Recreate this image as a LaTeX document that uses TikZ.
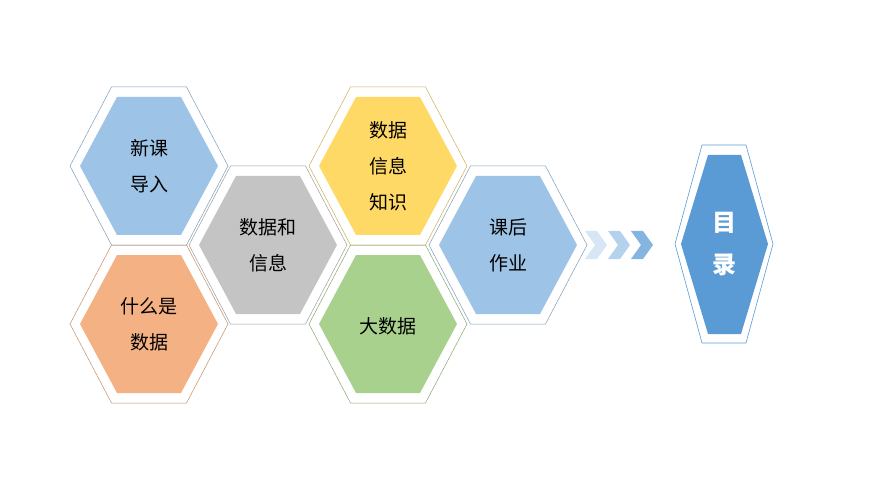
\documentclass[tikz,border=0pt]{standalone}
\usepackage{fontspec}
\setmainfont{Noto Sans CJK SC}
\definecolor{cblue}{HTML}{9DC3E6}
\definecolor{cgray}{HTML}{C4C4C4}
\definecolor{cyel}{HTML}{FFD966}
\definecolor{corg}{HTML}{F4B183}
\definecolor{cgrn}{HTML}{A9D18E}
\definecolor{cdeep}{HTML}{5B9BD5}
\newcommand\myhex[3]{% x y color
  \draw[#3!80!black, line width=0.5pt] (#1-79,#2) -- (#1-37.5,#2-79) -- (#1+37.5,#2-79) -- (#1+79,#2) -- (#1+37.5,#2+79) -- (#1-37.5,#2+79) -- cycle;
  \fill[#3] (#1-69,#2) -- (#1-32,#2-69) -- (#1+32,#2-69) -- (#1+69,#2) -- (#1+32,#2+69) -- (#1-32,#2+69) -- cycle;
}
\tikzset{lbl/.style={align=center, font=\fontsize{19}{36}\selectfont, text=black}}
\begin{document}
\begin{tikzpicture}[x=1pt,y=-1pt]
\useasboundingbox (0,0) rectangle (870,489);
\myhex{149}{166}{cblue}
\myhex{268}{245}{cgray}
\myhex{149}{324}{corg}
\myhex{388}{166}{cyel}
\myhex{388}{324}{cgrn}
\myhex{508}{245}{cblue}
\node[lbl] (a) at (149,166) {新课\\导入};
\node[lbl] (b) at (268,245) {数据和\\信息};
\node[lbl] (c) at (149,324) {什么是\\数据};
\node[lbl] (d) at (388,166) {数据\\信息\\知识};
\node[lbl] (e) at (388,326) {大数据};
\node[lbl] (f) at (508,245) {课后\\作业};
% chevrons
\foreach \x/\o in {585/0.25,608/0.45,631/0.75}{
  \fill[cdeep, opacity=\o] (\x,231) -- (\x+12,231) -- (\x+22,245) -- (\x+12,259) -- (\x,259) -- (\x+10,245) -- cycle;
}
% tall hexagon
\draw[cdeep, line width=0.6pt] (675,244) -- (702,145) -- (746,145) -- (773,244) -- (746,343) -- (702,343) -- cycle;
\fill[cdeep] (681,244) -- (708,155) -- (741,155) -- (768,244) -- (741,334) -- (708,334) -- cycle;
\node[align=center, text=white, font=\fontsize{24}{42}\selectfont\bfseries] (g) at (724.5,244) {目\\录};
\end{tikzpicture}
\end{document}
